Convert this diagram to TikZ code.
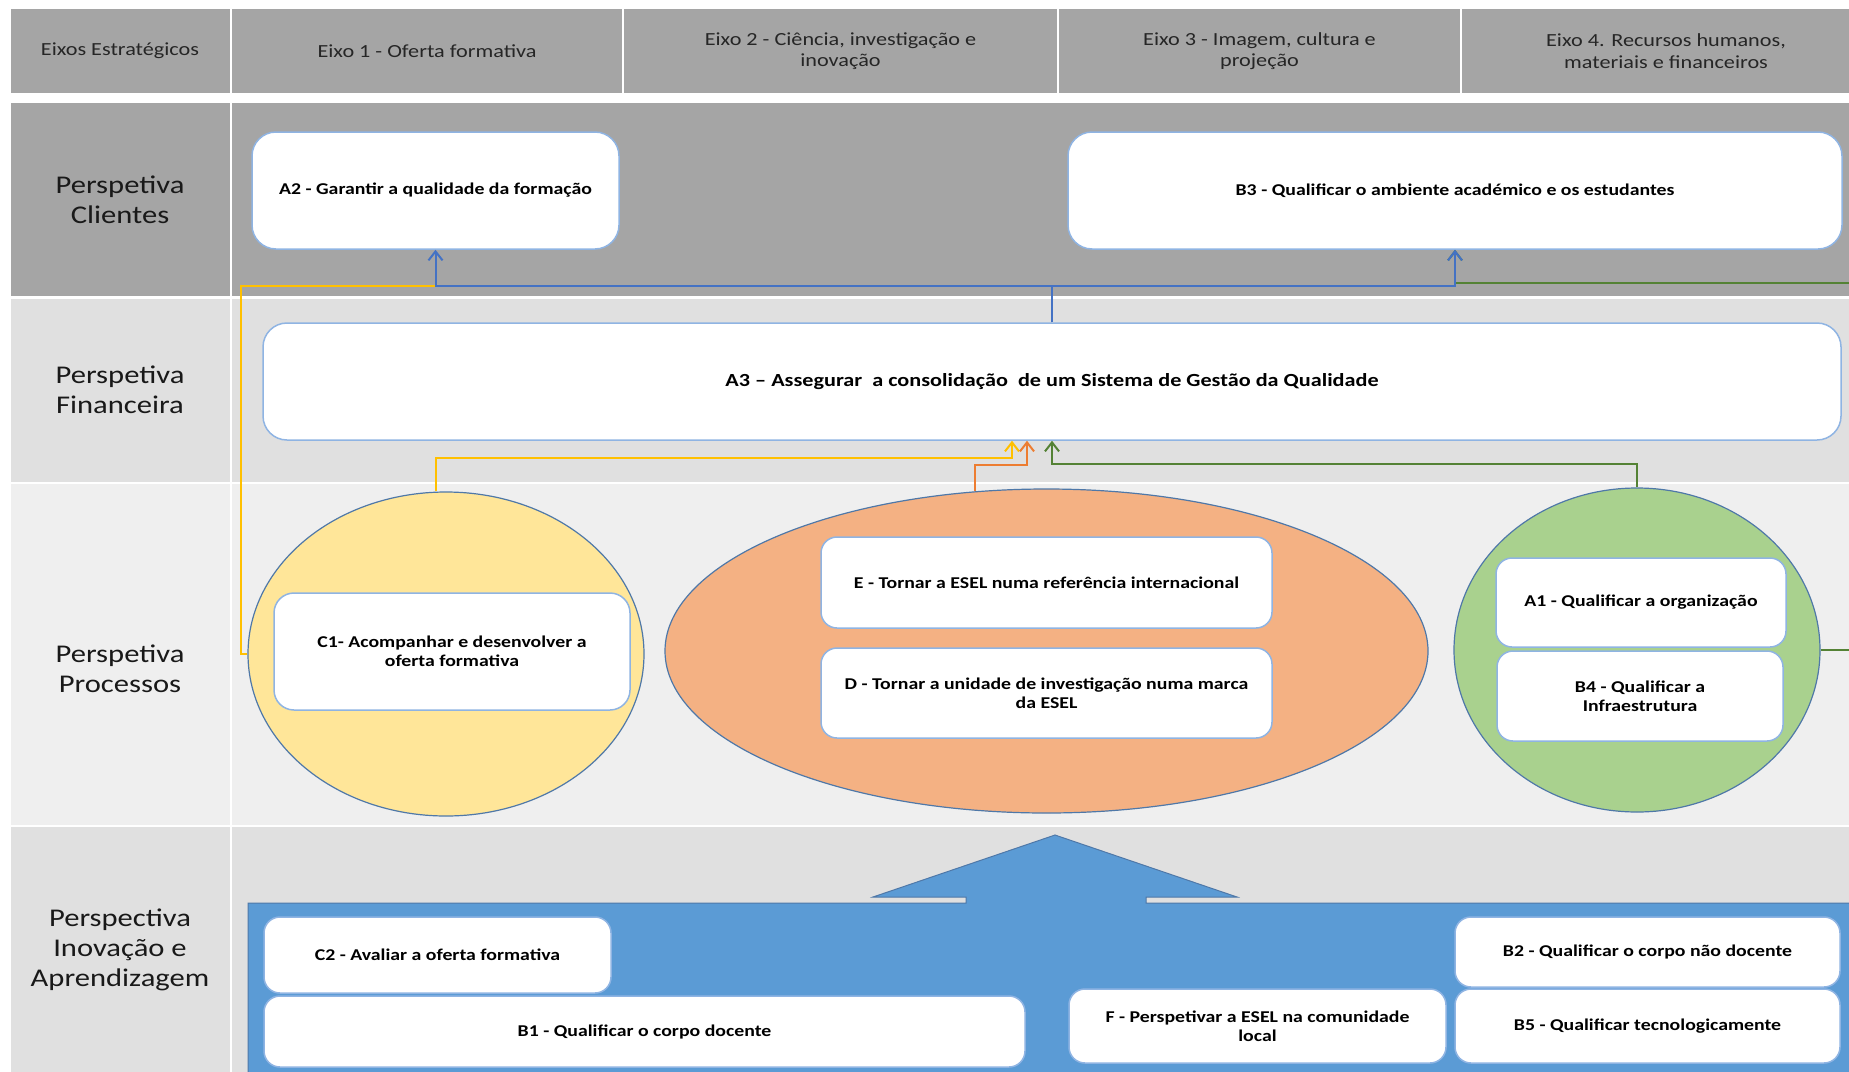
\documentclass[tikz,border=0pt]{standalone}
\usepackage{fontspec}
\setmainfont{Carlito}[FakeStretch=1.2]
\usetikzlibrary{shapes.geometric}
\usetikzlibrary{arrows.meta}
\definecolor{hdrgray}{HTML}{A5A5A5}
\definecolor{rowmid}{HTML}{E0E0E0}
\definecolor{rowlight}{HTML}{EFEFEF}
\definecolor{boxline}{HTML}{8FB4E3}
\definecolor{ellline}{HTML}{4F78A8}
\definecolor{cyellow}{HTML}{FFE699}
\definecolor{corange}{HTML}{F4B183}
\definecolor{cgreen}{HTML}{A9D18E}
\definecolor{cblue}{HTML}{5B9BD5}
\definecolor{lblue}{HTML}{4472C4}
\definecolor{lyellow}{HTML}{FFC000}
\definecolor{lorange}{HTML}{ED7D31}
\definecolor{lgreen}{HTML}{548235}
\tikzstyle{map}=[x=1pt, y=-1pt, >={Straight Barb[length=9pt,width=14pt]}]
\tikzstyle{hdr}=[align=center, text=black!85, font=\fontsize{18.5}{21.5}\selectfont]
\tikzstyle{persp}=[align=center, text=black!90, font=\fontsize{25.5}{30}\selectfont]
\tikzstyle{obj}=[rectangle, rounded corners=16pt, draw=boxline, line width=1.5pt, fill=white, align=center, inner sep=2pt, font=\bfseries\fontsize{16.5}{19}\selectfont]
\tikzstyle{bigobj}=[obj, rounded corners=24pt]
\tikzstyle{grp}=[ellipse, draw=ellline, line width=1.2pt, inner sep=0pt]
\tikzstyle{link}=[line width=2pt]

\begin{document}
\begin{tikzpicture}[map]
\useasboundingbox (0,0) rectangle (1849,1071);
\clip (0,0) rectangle (1849,1071);

%header row
\fill[hdrgray] (10.7,9.3) rectangle (230,92.7);
\fill[hdrgray] (232,9.3) rectangle (622,92.7);
\fill[hdrgray] (624,9.3) rectangle (1057,92.7);
\fill[hdrgray] (1059,9.3) rectangle (1460,92.7);
\fill[hdrgray] (1462,9.3) rectangle (1880,92.7);
\node[hdr] (h0) at (120,51) {Eixos Estratégicos};
\node[hdr] (h1) at (427,51) {Eixo 1 - Oferta formativa};
\node[hdr] (h2) at (840.5,51) {Eixo 2 - Ciência, investigação e\\inovação};
\node[hdr] (h3) at (1259.5,51) {Eixo 3 - Imagem, cultura e\\projeção};
\node[hdr] (h4) at (1666,51) {Eixo 4. Recursos humanos,\\materiais e financeiros};

%perspective rows
\fill[hdrgray] (10.7,103.3) rectangle (230,296);
\fill[hdrgray] (232,103.3) rectangle (1880,296);
\fill[rowmid] (10.7,298.5) rectangle (230,482);
\fill[rowmid] (232,298.5) rectangle (1880,482);
\fill[rowlight] (10.7,484) rectangle (230,825);
\fill[rowlight] (232,484) rectangle (1880,825);
\fill[rowmid] (10.7,827) rectangle (230,1080);
\fill[rowmid] (232,827) rectangle (1880,1080);
\node[persp] (p1) at (120,200) {Perspetiva\\Clientes};
\node[persp] (p2) at (120,390) {Perspetiva\\Financeira};
\node[persp] (p3) at (120,669) {Perspetiva\\Processos};
\node[persp] (p4) at (120,950) {Perspectiva\\Inovação e\\Aprendizagem};

%learning block with arrow
\draw[fill=cblue, draw=ellline, line width=1pt] (248,1080) -- (248,903) -- (966,903) -- (966,897) -- (873,897) -- (1055,835) -- (1237,897) -- (1146,897) -- (1146,903) -- (1880,903) -- (1880,1080) -- cycle;

\node[bigobj, minimum width=367, minimum height=117] (A2) at (435.5,190.5) {A2 - Garantir a qualidade da formação};
\node[bigobj, minimum width=774, minimum height=117] (B3) at (1455,190.5) {B3 - Qualificar o ambiente académico e os estudantes};
\node[bigobj, minimum width=1578, minimum height=117, font=\bfseries\fontsize{18.5}{21}\selectfont] (A3) at (1052,381.5) {A3 -- Assegurar~ a consolidação~ de um Sistema de Gestão da Qualidade};

\node[grp, fill=cyellow, minimum width=396, minimum height=324] (yel) at (446,654) {};
\node[grp, fill=corange, minimum width=763, minimum height=324] (orn) at (1046.5,651) {};
\node[grp, fill=cgreen, minimum width=366, minimum height=324] (grn) at (1637,650) {};

\node[obj, minimum width=356, minimum height=117, rounded corners=20pt] (C1) at (452,651.5) {C1- Acompanhar e desenvolver a\\oferta formativa};
\node[obj, minimum width=451, minimum height=91] (E) at (1046.5,582.5) {E - Tornar a ESEL numa referência internacional};
\node[obj, minimum width=451, minimum height=90] (D) at (1046.5,693) {D - Tornar a unidade de investigação numa marca\\da ESEL};
\node[obj, minimum width=290, minimum height=89] (A1) at (1641,602.5) {A1 - Qualificar a organização};
\node[obj, minimum width=286, minimum height=90] (B4) at (1640,696) {B4 - Qualificar a\\Infraestrutura};

\node[obj, minimum width=347, minimum height=76] (C2) at (437.5,955) {C2 - Avaliar a oferta formativa};
\node[obj, minimum width=761, minimum height=71] (B1) at (644.5,1031.5) {B1 - Qualificar o corpo docente};
\node[obj, minimum width=377, minimum height=74] (F) at (1257.5,1026) {F - Perspetivar a ESEL na comunidade\\local};
\node[obj, minimum width=385, minimum height=70] (B2) at (1647.5,952) {B2 - Qualificar o corpo não docente};
\node[obj, minimum width=385, minimum height=74] (B5) at (1647.5,1026) {B5 - Qualificar tecnologicamente};

%connectors
\coordinate (bus) at (1052,286);
\coordinate (gright) at (1880,283);
\coordinate (ya) at (1012,458);
\coordinate (oa) at (1027,465);
\draw[link, lyellow] (yel.west) -- ++(-6,0) coordinate (yc) -- (yc |- bus) -- (A2.south |- bus);
\draw[link, lgreen, ->] (grn.east) -- (grn.east -| gright) -- (gright) -| (B3.south);
\draw[link, lblue, ->] (A3.north) -- (bus) -| (A2.south);
\draw[link, lblue, ->] (A3.north) -- (bus) -| (B3.south);
\draw[link, lyellow, ->] (yel.north -| A2.south) |- (ya) -- (ya |- A3.south);
\draw[link, lorange, ->] (orn.114) |- (oa) -- (oa |- A3.south);
\draw[link, lgreen, ->] (grn.north) -- ++(0,-23) -| (A3.south);
\end{tikzpicture}
\end{document}
